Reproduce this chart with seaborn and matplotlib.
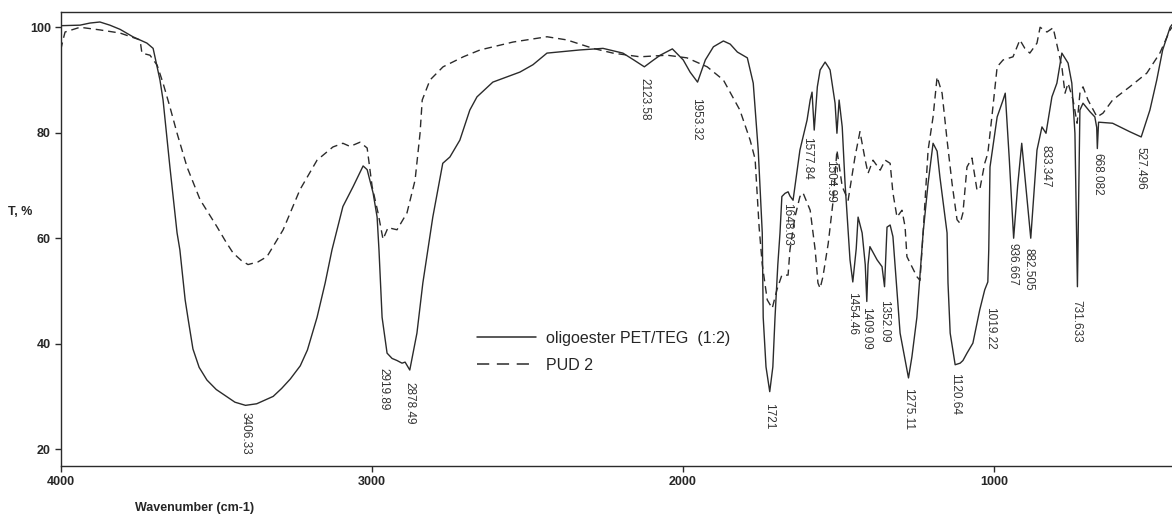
import matplotlib
matplotlib.use('Agg')
import matplotlib.pyplot as plt
from matplotlib.lines import Line2D
import seaborn as sns
import pandas as pd

# oligoester PET/TEG (1:2) - solid curve
wn_oligo = [4000, 3938, 3906, 3874, 3842, 3809, 3768, 3723, 3703, 3681, 3671, 3649, 3626,
            3617, 3600, 3590, 3575, 3555, 3530, 3500, 3465, 3440, 3406, 3370, 3317, 3290,
            3262, 3230, 3207, 3176, 3150, 3128, 3093,
            3060, 3028, 3015, 2996, 2983, 2977, 2967, 2951, 2935, 2919, 2903, 2893, 2878,
            2855, 2836, 2820, 2804, 2772, 2749, 2717, 2685, 2662, 2611, 2524, 2482, 2437,
            2331, 2257, 2193, 2158, 2124, 2099, 2073, 2034, 1999, 1977, 1953, 1928, 1902,
            1870, 1848, 1825, 1793, 1774, 1758, 1745, 1742, 1733, 1721, 1711, 1704, 1698,
            1695, 1688, 1682, 1672, 1662, 1656, 1646, 1624, 1601, 1591, 1585, 1578, 1568,
            1559, 1543, 1533, 1527, 1511, 1505, 1498, 1488, 1479, 1463, 1454, 1443, 1437,
            1424, 1414, 1409, 1405, 1399, 1376, 1360, 1352, 1344, 1334, 1325, 1302, 1275,
            1264, 1248, 1228, 1212, 1196, 1183, 1174, 1151, 1148, 1141, 1125, 1109, 1100,
            1087, 1068, 1046, 1030, 1020, 1017, 1013, 990, 971, 964, 951, 937, 924, 911,
            898, 882, 862, 846, 833, 814, 798, 782, 762, 750, 740, 732, 724, 714, 692,
            676, 670, 668, 664, 619, 564, 527, 499, 477, 458, 434, 428]
t_oligo = [100.3, 100.4, 100.8, 101.0, 100.4, 99.6, 98.2, 97.0, 96.0, 90.0, 86.2, 73.5, 61.0,
           57.8, 48.3, 44.5, 39.0, 35.5, 33.1, 31.3, 29.9, 28.9, 28.3, 28.6, 30.0, 31.5,
           33.3, 35.8, 38.8, 45.0, 51.5, 57.8, 66.0,
           69.8, 73.7, 73.0, 68.6, 64.0, 57.8, 45.0, 38.2, 37.2, 36.8, 36.3, 36.5, 35.0,
           42.0, 51.5, 57.8, 64.0, 74.2, 75.4, 78.6, 84.3, 86.8, 89.6, 91.5, 92.9, 95.1,
           95.7, 96.0, 95.1, 93.8, 92.5, 93.6, 94.7, 95.9, 93.8, 91.5, 89.6, 93.8, 96.3,
           97.4, 96.8, 95.3, 94.2, 89.4, 76.7, 61.0, 45.0, 35.6, 30.9, 35.6, 45.0, 51.5,
           55.0, 61.0, 67.9, 68.5, 68.8, 68.0, 67.2, 76.7, 82.4, 86.2, 87.7, 80.5, 88.7,
           91.9, 93.4, 92.5, 91.9, 85.6, 79.9, 86.2, 81.1, 70.5, 55.9, 51.7, 58.0, 64.0,
           61.0, 55.0, 48.0, 55.0, 58.4, 55.9, 54.6, 50.8, 62.1, 62.5, 60.3, 42.0, 33.5,
           37.5, 45.0, 61.0, 70.4, 78.0, 76.5, 71.6, 61.0, 51.5, 42.0, 36.0, 36.3, 36.8,
           38.2, 40.1, 46.4, 50.2, 51.7, 57.8, 73.5, 83.0, 86.2, 87.5, 75.0, 60.0, 70.0, 78.0,
           70.0, 60.0, 76.7, 81.1, 79.9, 86.8, 89.4, 95.1, 93.2, 89.4, 79.9, 50.8, 84.3, 85.6, 84.0,
           83.0, 81.0, 77.0, 82.0, 81.8, 80.2, 79.2, 84.3, 90.0, 95.7, 100.0, 100.5]

# PUD 2 - dashed curve
wn_pud = [4000, 3993, 3986, 3938, 3874, 3809, 3745, 3739, 3713, 3690, 3671, 3649, 3626, 3594,
          3552, 3498, 3470, 3446, 3420, 3398, 3366, 3337, 3285, 3231, 3176, 3125, 3093, 3070,
          3038, 3015,
          2999, 2980, 2964, 2948, 2919, 2887, 2861, 2845, 2838, 2813, 2771, 2706, 2652, 2546,
          2437, 2373, 2289, 2225, 2138, 2051, 1987, 1922, 1870, 1817, 1784, 1768, 1755, 1745,
          1729, 1713, 1698, 1682, 1662, 1656, 1640, 1624, 1614, 1591, 1575, 1566, 1559, 1550,
          1533, 1517, 1505, 1488, 1469, 1447, 1431, 1414, 1405, 1389, 1366, 1350, 1334, 1325,
          1312, 1296, 1286, 1280, 1248, 1238, 1228, 1212, 1196, 1183, 1167, 1151, 1135, 1119,
          1109, 1100, 1087, 1071, 1055, 1046, 1030, 1020, 1007, 990, 971, 939, 917, 901, 885,
          862, 852, 830, 810, 794, 782, 772, 762, 746, 733, 724, 714, 698, 669, 650, 619, 564,
          509, 467, 434, 428]
t_pud = [95.7, 97.5, 99.1, 100.0, 99.5, 98.9, 97.6, 95.1, 94.7, 92.8, 89.4, 84.9, 79.9, 73.5,
         67.3, 62.2, 59.4, 57.2, 55.8, 55.0, 55.5, 56.5, 61.6, 69.2, 74.8, 77.3, 78.0, 77.4,
         78.2, 77.1,
         69.8, 64.8, 59.8, 62.0, 61.6, 64.8, 71.0, 79.9, 86.2, 90.0, 92.5, 94.4, 95.7, 97.2,
         98.2, 97.6, 96.0, 95.1, 94.4, 94.7, 94.2, 92.5, 90.0, 84.3, 78.6, 75.0, 62.0, 55.0,
         48.3, 46.7, 50.2, 53.0, 53.0, 57.8, 64.0, 67.9, 68.6, 65.3, 57.8, 51.5, 50.5, 52.7,
         59.0, 67.2, 76.7, 69.8, 67.2, 75.4, 80.2, 74.8, 72.3, 74.8, 72.9, 74.8, 74.2, 68.6,
         64.0, 65.3, 62.2, 56.5, 52.7, 52.0, 61.0, 76.7, 83.0, 90.6, 87.5, 78.6, 70.4, 63.5,
         62.8, 64.8, 73.5, 75.2, 69.2, 69.2, 74.2, 76.1, 83.0, 92.5, 93.8, 94.4, 97.6, 96.0, 95.1,
         97.0, 100.0, 99.1, 99.9, 95.7, 92.5, 87.5, 89.4, 86.2, 81.8, 87.5, 88.7, 86.2, 83.0, 83.7,
         86.2, 88.7, 91.3, 95.1, 99.5, 100.0]

# peak labels: text, wavenumber where it is drawn, T at the top of the label
peak_txt = ['3406.33', '2919.89', '2878.49', '2123.58', '1953.32', '1721', '1648.03', '1577.84',
            '1504.99', '1454.46', '1409.09', '1352.09', '1275.11', '1120.64', '1019.22',
            '936.667', '882.505', '833.347', '731.633', '668.082', '527.496']
peak_x = [3406, 2964, 2878, 2124, 1958, 1722, 1666, 1601, 1527, 1456, 1410, 1354, 1277, 1124,
          1014, 941, 888, 834, 737, 668, 528]
peak_t = [27.1, 35.4, 32.8, 90.4, 86.6, 28.8, 66.7, 79.2, 74.8, 49.8, 47.0, 48.3, 31.6, 34.5,
          47.0, 59.1, 58.2, 77.7, 48.3, 76.1, 77.3]

x_ticks = [4000, 3000, 2000, 1000]
y_ticks = [20, 40, 60, 80, 100]

sns.set_style('ticks')
plt.rcParams['font.family'] = ['Liberation Sans', 'DejaVu Sans']

oligo = pd.DataFrame({'wn': wn_oligo, 'T': t_oligo})
pud = pd.DataFrame({'wn': wn_pud, 'T': t_pud})

fig = plt.figure(figsize=(11.72, 5.14), dpi=100)
ax = fig.add_axes([0.0518, 0.0934, 0.9482, 0.8833])

col = '#2b2b2b'
sns.lineplot(data=oligo, x='wn', y='T', ax=ax, sort=False, color=col, lw=1.0)
sns.lineplot(data=pud, x='wn', y='T', ax=ax, sort=False, color=col, lw=1.0,
             linestyle=(0, (5.5, 3.5)))

ax.set_xlim(4000, 428)
ax.set_ylim(16.8, 102.9)
ax.set_xticks(x_ticks)
ax.set_yticks(y_ticks)
ax.set_xlabel('')
ax.set_ylabel('')
for lab in ax.get_xticklabels() + ax.get_yticklabels():
    lab.set_fontweight('bold')
    lab.set_fontsize(9)
ax.tick_params(length=4, width=1, color=col, pad=3)
ax.spines['right'].set_visible(False)
for s in ['left', 'bottom', 'top']:
    ax.spines[s].set_color(col)
    ax.spines[s].set_linewidth(1)

for txt, w, t in zip(peak_txt, peak_x, peak_t):
    ax.text(w, t, txt, rotation=270, ha='center', va='top', fontsize=8.5, color='#333333')

handles = [Line2D([], [], color=col, lw=1.1),
           Line2D([], [], color=col, lw=1.1, dashes=(8, 5))]
ax.legend(handles, ['oligoester PET/TEG  (1:2)', 'PUD 2'], loc='upper left',
          bbox_to_anchor=(0.362, 0.33), frameon=False, fontsize=11.5, handlelength=3.7,
          labelspacing=0.75, handletextpad=0.6)

fig.text(8 / 1172, 1 - 212 / 514, 'T, %', fontsize=9, fontweight='bold', va='center')
fig.text(135 / 1172, 1 - 508 / 514, 'Wavenumber (cm-1)', fontsize=9, fontweight='bold',
         va='center')

fig.savefig('out.png', dpi=100)
